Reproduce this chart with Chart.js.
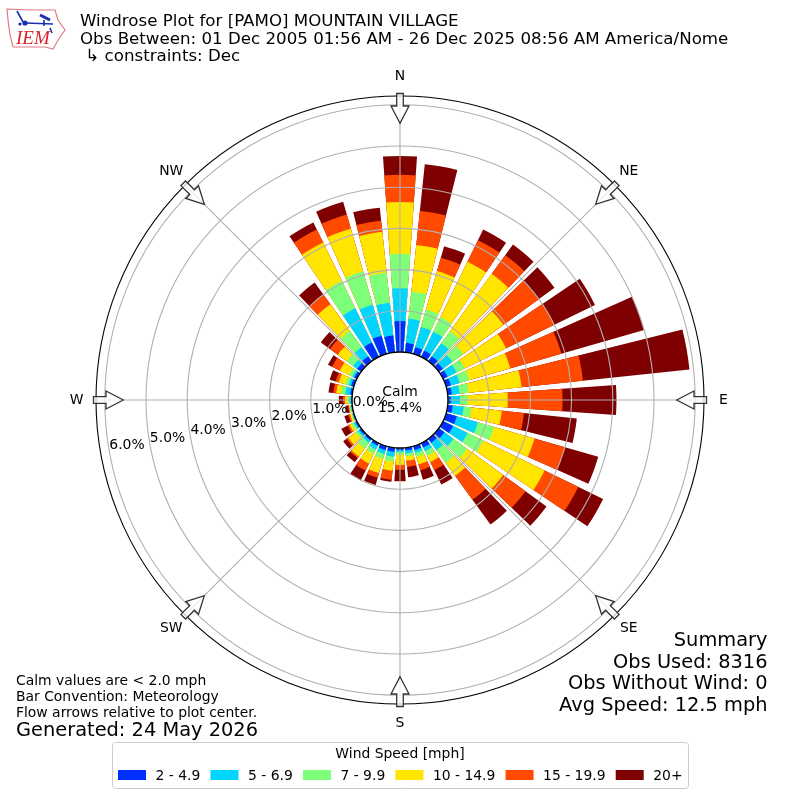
<!DOCTYPE html>
<html>
<head>
<meta charset="utf-8">
<title>Windrose</title>
<script src="https://cdn.jsdelivr.net/npm/chart.js@4"></script>
<style>
  html, body { margin: 0; padding: 0; background: #fff; }
  canvas { display: block; }
</style>
</head>
<body>
<canvas id="myChart" width="800" height="800"></canvas>
<script>
const FONT = '"DejaVu Sans"';

// percent of obs per bin, one value per 10 degree direction starting at N
const speed2to5 = [.75,.23,.17,.17,.15,.12,.12,.12,.10,.07,.12,.27,.27,.17,.12,.12,.10,.07,.05,.10,.10,.07,.05,.05,.04,.02,.02,.02,.05,.07,.07,.12,.15,.39,.46,.41];
const speed5to7 = [.80,.59,.51,.51,.39,.29,.24,.22,.19,.22,.27,.53,.39,.27,.22,.10,.07,.07,.05,.12,.10,.10,.07,.05,.04,.02,.02,.04,.12,.06,.05,.12,.27,.92,.78,.80];
const speed7to10 = [.83,.66,.44,.39,.36,.32,.22,.24,.22,.19,.19,.41,.42,.41,.38,.12,.10,.07,.07,.12,.12,.12,.17,.07,.06,.02,.02,.04,.10,.08,.09,.19,.49,.74,.84,.73];
const speed10to15 = [1.26,1.14,.97,1.50,1.72,1.21,1.12,1.04,1.29,.97,.74,1.02,1.66,1.08,.39,.17,.19,.11,.24,.22,.36,.26,.24,.22,.06,.04,.02,.07,.12,.17,.25,.27,.80,1.04,1.08,1.00];
const speed15to20 = [.66,.83,.34,.58,.56,1.07,1.31,1.29,1.50,1.33,.54,.78,.91,.67,.72,.22,.15,.15,.12,.22,.12,.19,.05,.05,.05,.04,.02,.05,.07,.08,.21,.24,.29,.35,.36,.27];
const speed20up = [.46,1.14,.29,.29,.32,.46,1.09,2.09,2.60,1.31,1.29,.83,.67,.63,.74,.39,.24,.25,.28,.05,.18,.26,.12,.10,.17,.10,.07,.10,.12,.15,.11,.27,.36,.19,.32,.32];

const binLabels = ["2 - 4.9", "5 - 6.9", "7 - 9.9", "10 - 14.9", "15 - 19.9", "20+"];
const binColors = ["#0030ff", "#00d4ff", "#7dff7a", "#ffe500", "#ff4a00", "#7f0000"];
const compass = ["N", "NE", "E", "SE", "S", "SW", "W", "NW"];
const ringValues = [0, 1, 2, 3, 4, 5, 6];

const bins = [speed2to5, speed5to7, speed7to10, speed10to15, speed15to20, speed20up];

// every bar gets a zero gap slot after it, so bars don't touch
const slotLabels = [];
speed2to5.forEach((v, i) => slotLabels.push(String(i * 10), ""));

const running = speed2to5.map(() => 0);
const datasets = bins.map((bin, b) => {
    const data = [];
    bin.forEach((v, i) => {
        running[i] += v;
        data.push(running[i], 0);
    });
    return {
        label: binLabels[b],
        data: data,
        backgroundColor: binColors[b],
        borderWidth: 0,
        angle: ctx => (ctx.dataIndex % 2 ? 2 : 8)
    };
});

function text(ctx, str, x, y, size, align, font) {
    ctx.font = font || (size + "px " + FONT);
    ctx.textAlign = align || "left";
    ctx.textBaseline = "alphabetic";
    ctx.fillStyle = "#000";
    ctx.fillText(str, x, y);
}

function drawLogo(ctx) {
    ctx.save();
    ctx.strokeStyle = "#e07a80";
    ctx.lineWidth = 1.2;
    ctx.beginPath();
    [[7,9],[30,10],[55,10],[58,20],[65,30],[60,37],[57,42],[53,49],[45,47],[13,47],[10,35],[8,20]].forEach((p, i) => {
        if (i === 0) ctx.moveTo(p[0], p[1]); else ctx.lineTo(p[0], p[1]);
    });
    ctx.closePath();
    ctx.stroke();
    ctx.strokeStyle = "#1a2fb0";
    ctx.fillStyle = "#1a2fb0";
    ctx.lineWidth = 1.6;
    [[25,23,53,24],[17,11,23,22],[50,28,52,33],[44,20,44,26]].forEach(l => {
        ctx.beginPath(); ctx.moveTo(l[0], l[1]); ctx.lineTo(l[2], l[3]); ctx.stroke();
    });
    ctx.lineWidth = 3;
    ctx.beginPath(); ctx.moveTo(40, 15); ctx.lineTo(50, 20); ctx.stroke();
    ctx.beginPath(); ctx.arc(25, 23, 2.6, 0, Math.PI * 2); ctx.fill();
    ctx.beginPath(); ctx.arc(20, 24, 1.6, 0, Math.PI * 2); ctx.fill();
    ctx.fillStyle = "#d8232a";
    ctx.font = 'italic 19px "Liberation Serif"';
    ctx.textAlign = "left";
    ctx.textBaseline = "alphabetic";
    ctx.fillText("IEM", 16, 44);
    ctx.restore();
}

function drawArrow(ctx, cx, cy, ang) {
    // ang measured clockwise from north, tip points at the center
    ctx.save();
    ctx.translate(cx, cy);
    ctx.rotate(ang);
    ctx.beginPath();
    ctx.moveTo(0, -276.7);
    ctx.lineTo(-9, -294);
    ctx.lineTo(-3.3, -294);
    ctx.lineTo(-3.3, -306.5);
    ctx.lineTo(3.3, -306.5);
    ctx.lineTo(3.3, -294);
    ctx.lineTo(9, -294);
    ctx.closePath();
    ctx.fillStyle = "rgba(255,255,255,0.75)";
    ctx.fill();
    ctx.strokeStyle = "#333";
    ctx.lineWidth = 1.3;
    ctx.stroke();
    ctx.restore();
}

const windrosePlugin = {
    id: "windrose",
    afterDraw(chart) {
        const ctx = chart.ctx;
        const r = chart.scales.r;
        const cx = r.xCenter, cy = r.yCenter;
        const inner = r.getDistanceFromCenterForValue(0);
        const outer = r.drawingArea;

        ctx.save();
        // spokes
        ctx.strokeStyle = "#b0b0b0";
        ctx.lineWidth = 1.1;
        compass.forEach((c, i) => {
            const a = i * Math.PI / 4;
            ctx.beginPath();
            ctx.moveTo(cx + inner * Math.sin(a), cy - inner * Math.cos(a));
            ctx.lineTo(cx + outer * Math.sin(a), cy - outer * Math.cos(a));
            ctx.stroke();
        });
        // outer frame
        ctx.strokeStyle = "#000";
        ctx.lineWidth = 1.1;
        ctx.beginPath();
        ctx.arc(cx, cy, outer, 0, Math.PI * 2);
        ctx.stroke();
        // calm circle
        ctx.fillStyle = "#fff";
        ctx.lineWidth = 1.4;
        ctx.beginPath();
        ctx.arc(cx, cy, inner, 0, Math.PI * 2);
        ctx.fill();
        ctx.stroke();

        compass.forEach((c, i) => {
            const a = i * Math.PI / 4;
            drawArrow(ctx, cx, cy, a);
            ctx.font = "13.9px " + FONT;
            ctx.textAlign = "center";
            ctx.textBaseline = "middle";
            ctx.fillStyle = "#000";
            ctx.fillText(c, cx + 323.5 * Math.sin(a), cy - 323.5 * Math.cos(a));
        });

        // ring labels sit along bearing 260
        const lab = 260 * Math.PI / 180;
        ringValues.forEach(v => {
            const d = r.getDistanceFromCenterForValue(v);
            text(ctx, v.toFixed(1) + "%", cx + d * Math.sin(lab), cy - d * Math.cos(lab) - 2.5, 13.9);
        });

        text(ctx, "Calm", 400, 396, 13.9, "center");
        text(ctx, "15.4%", 400, 412, 13.9, "center");

        drawLogo(ctx);

        text(ctx, "Windrose Plot for [PAMO] MOUNTAIN VILLAGE", 80, 26, 16.67);
        text(ctx, "Obs Between: 01 Dec 2005 01:56 AM - 26 Dec 2025 08:56 AM America/Nome", 80, 43.5, 16.67);
        text(ctx, " \u21b3 constraints: Dec", 80, 61, 16.67);

        text(ctx, "Calm values are < 2.0 mph", 16, 685, 13.9);
        text(ctx, "Bar Convention: Meteorology", 16, 701, 13.9);
        text(ctx, "Flow arrows relative to plot center.", 16, 717, 13.9);
        text(ctx, "Generated: 24 May 2026", 16, 736, 19.4);

        text(ctx, "Summary", 767.5, 646, 19.4, "right");
        text(ctx, "Obs Used: 8316", 767.5, 668, 19.4, "right");
        text(ctx, "Obs Without Wind: 0", 767.5, 689, 19.4, "right");
        text(ctx, "Avg Speed: 12.5 mph", 767.5, 711, 19.4, "right");

        // legend box
        ctx.strokeStyle = "#ccc";
        ctx.lineWidth = 1;
        ctx.beginPath();
        ctx.roundRect(112.5, 742.5, 576, 46, 3);
        ctx.stroke();
        text(ctx, "Wind Speed [mph]", 400, 758, 13.9, "center");
        let x = 118;
        binLabels.forEach((l, i) => {
            ctx.fillStyle = binColors[i];
            ctx.fillRect(x, 770, 28, 10);
            text(ctx, l, x + 37.5, 780, 13.9);
            x += 37.5 + ctx.measureText(l).width + 10.2;
        });
        ctx.restore();
    }
};

new Chart("myChart", {
    type: "polarArea",
    data: {
        labels: slotLabels,
        datasets: datasets
    },
    options: {
        responsive: false,
        animation: false,
        layout: { padding: 96 },
        plugins: {
            legend: { display: false },
            tooltip: { enabled: false }
        },
        scales: {
            r: {
                min: -48 / 41.2,
                max: 6.214,
                startAngle: -4,
                afterBuildTicks(scale) {
                    scale.ticks = ringValues.map(v => ({ value: v }));
                },
                ticks: { display: false },
                grid: { color: "#b0b0b0", lineWidth: 1.1, z: 1 },
                angleLines: { display: false },
                pointLabels: { display: false }
            }
        }
    },
    plugins: [windrosePlugin]
});
</script>
</body>
</html>
